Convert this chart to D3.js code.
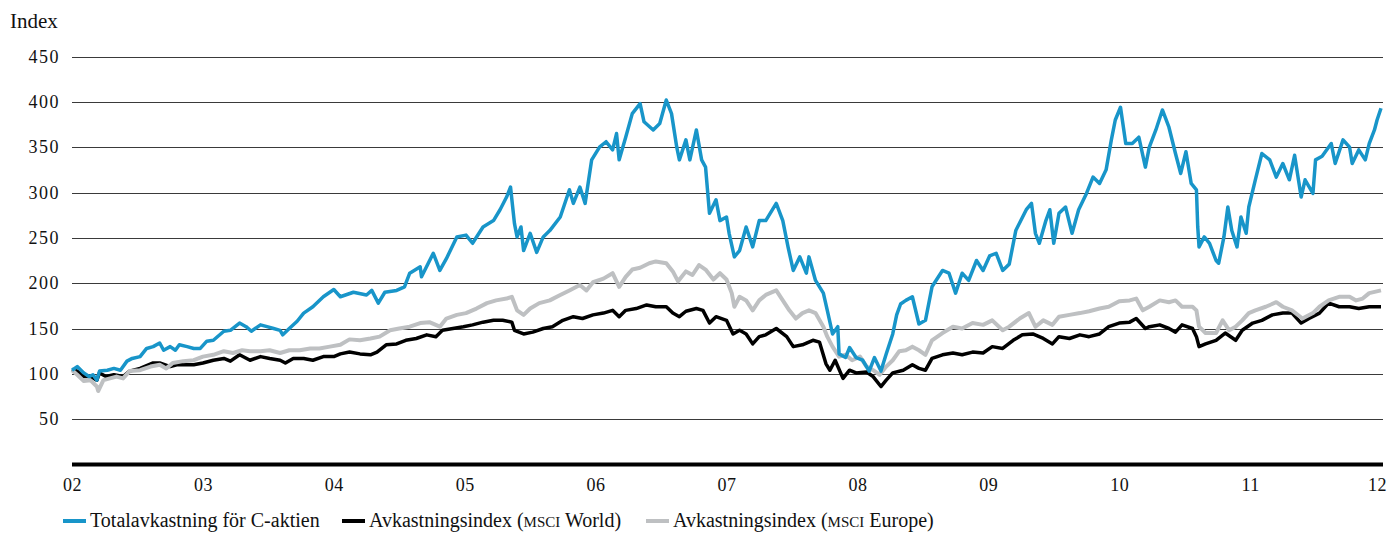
<!DOCTYPE html>
<html>
<head>
<meta charset="utf-8">
<script src="https://cdn.jsdelivr.net/npm/d3@7"></script>
<style>
    body { margin: 0; background: #fff; }
    svg { display: block; font-family: "Liberation Serif", serif; }
</style>
</head>
<body>
<svg id="chart" width="1390" height="533"></svg>
<script>
// [decimal year, index]
var cAktien = [[2002.00,104],[2002.04,108],[2002.09,101],[2002.13,97],[2002.16,99],[2002.19,93],[2002.21,103],[2002.27,104],[2002.32,106],[2002.37,104],[2002.42,114],[2002.46,117],[2002.52,119],[2002.57,128],[2002.62,130],[2002.67,134],[2002.70,126],[2002.75,130],[2002.79,126],[2002.82,132],[2002.88,130],[2002.93,128],[2002.98,128],[2003.03,136],[2003.08,137],[2003.16,147],[2003.21,148],[2003.28,156],[2003.33,152],[2003.37,147],[2003.44,154],[2003.49,152],[2003.54,150],[2003.59,148],[2003.61,143],[2003.66,150],[2003.72,158],[2003.77,167],[2003.84,174],[2003.92,185],[2004.00,193],
    [2004.05,185],[2004.15,190],[2004.25,187],[2004.29,192],[2004.34,178],[2004.39,190],[2004.48,192],[2004.54,196],[2004.58,211],[2004.66,218],[2004.67,207],[2004.76,233],[2004.81,214],[2004.86,227],[2004.94,251],[2005.01,253],[2005.06,244],[2005.14,262],[2005.22,269],[2005.27,281],[2005.32,295],[2005.35,306],[2005.38,266],[2005.40,251],[2005.43,262],[2005.45,236],[2005.50,255],[2005.55,234],[2005.60,251],[2005.65,258],[2005.73,273],[2005.80,303],[2005.83,288],[2005.88,306],[2005.92,288],[2005.97,336],[2006.03,350],[2006.08,356],[2006.13,347],[2006.16,365],
    [2006.18,336],[2006.23,361],[2006.28,387],[2006.34,398],[2006.37,378],[2006.44,369],[2006.49,376],[2006.54,402],[2006.58,387],[2006.62,350],[2006.64,336],[2006.69,358],[2006.72,336],[2006.77,369],[2006.81,336],[2006.84,328],[2006.87,277],[2006.92,292],[2006.95,269],[2007.00,273],[2007.02,255],[2007.06,229],[2007.10,236],[2007.15,262],[2007.20,240],[2007.25,269],[2007.30,269],[2007.38,288],[2007.43,269],[2007.47,240],[2007.51,214],[2007.56,229],[2007.61,211],[2007.63,229],[2007.68,203],[2007.74,189],[2007.77,170],[2007.81,144],[2007.85,152],[2007.86,122],[2007.91,118],[2007.94,129],[2007.99,118],[2008.04,115],[2008.09,103],[2008.13,118],[2008.18,103],[2008.22,122],[2008.27,144],[2008.30,165],[2008.33,177],[2008.37,181],[2008.42,185],
    [2008.47,155],[2008.52,159],[2008.57,196],[2008.65,214],[2008.70,211],[2008.75,189],[2008.80,211],[2008.85,203],[2008.91,225],[2008.96,214],[2009.01,230],[2009.06,233],[2009.11,214],[2009.16,221],[2009.21,258],[2009.29,281],[2009.33,288],[2009.36,255],[2009.39,244],[2009.44,269],[2009.47,281],[2009.50,244],[2009.54,277],[2009.59,284],[2009.64,255],[2009.69,281],[2009.75,299],[2009.80,317],[2009.85,310],[2009.90,325],[2009.94,358],[2009.97,380],[2010.01,394],[2010.05,354],[2010.10,354],[2010.15,361],[2010.20,328],
    [2010.23,350],[2010.28,369],[2010.33,391],[2010.38,372],[2010.43,343],[2010.47,321],[2010.51,345],[2010.55,310],[2010.59,303],[2010.60,262],[2010.61,240],[2010.65,251],[2010.69,244],[2010.74,225],[2010.76,222],[2010.80,251],[2010.83,284],[2010.86,258],[2010.90,240],[2010.93,273],[2010.97,255],[2010.99,284],[2011.04,314],[2011.09,343],[2011.15,336],[2011.20,317],[2011.25,332],[2011.30,314],[2011.34,341],[2011.39,295],[2011.42,314],[2011.48,299],[2011.50,336],[2011.55,340],[2011.62,354],[2011.65,332],[2011.71,358],[2011.76,350],[2011.78,332],[2011.83,347],[2011.88,336],[2011.91,354],[2011.95,369],[2011.97,380],[2012.00,393]];

var msciWorld = [[2002.00,105],[2002.04,103],[2002.09,97],[2002.14,97],[2002.19,93],[2002.21,101],[2002.26,97],[2002.32,99],[2002.39,97],[2002.44,103],[2002.52,106],[2002.62,112],[2002.67,112],[2002.75,108],[2002.80,110],[2002.88,110],[2002.93,110],[2003.00,112],[2003.08,115],[2003.16,117],[2003.21,114],[2003.28,121],[2003.36,115],[2003.44,119],[2003.51,117],[2003.59,115],[2003.63,112],[2003.69,117],[2003.77,117],[2003.84,115],[2003.92,119],[2004.00,119],
    [2004.05,122],[2004.12,124],[2004.20,122],[2004.28,121],[2004.33,124],[2004.40,132],[2004.48,133],[2004.55,137],[2004.63,139],[2004.71,143],[2004.78,141],[2004.83,148],[2004.91,150],[2004.99,152],[2005.06,154],[2005.14,157],[2005.22,159],[2005.29,159],[2005.36,157],[2005.38,148],[2005.45,144],[2005.52,146],[2005.60,150],[2005.67,152],[2005.75,159],[2005.83,163],[2005.90,161],[2005.98,165],[2006.06,167],[2006.13,170],
    [2006.18,163],[2006.23,170],[2006.31,172],[2006.39,176],[2006.46,174],[2006.54,174],[2006.59,167],[2006.64,163],[2006.69,169],[2006.77,172],[2006.82,170],[2006.87,156],[2006.92,163],[2007.00,159],[2007.05,144],[2007.10,148],[2007.15,144],[2007.20,133],[2007.25,141],[2007.30,143],[2007.38,150],[2007.46,141],[2007.51,130],[2007.58,132],[2007.66,137],[2007.71,135],[2007.76,111],[2007.79,104],[2007.83,115],[2007.89,95],[2007.94,104],[2007.99,101],[2008.07,102],[2008.12,97],[2008.18,86],[2008.22,93],[2008.27,101],[2008.35,104],[2008.42,110],
    [2008.47,106],[2008.52,104],[2008.57,117],[2008.65,121],[2008.73,123],[2008.80,121],[2008.88,124],[2008.96,123],[2009.03,130],[2009.11,128],[2009.19,137],[2009.26,143],[2009.34,144],[2009.42,139],[2009.49,133],[2009.54,141],[2009.62,139],[2009.70,143],[2009.77,141],[2009.85,144],[2009.92,152],[2010.00,156],[2010.08,157],[2010.13,161],[2010.20,150],
    [2010.23,152],[2010.31,154],[2010.38,150],[2010.43,146],[2010.48,154],[2010.56,150],[2010.59,141],[2010.61,130],[2010.66,133],[2010.74,137],[2010.81,145],[2010.89,137],[2010.94,148],[2011.02,156],[2011.09,159],[2011.17,165],[2011.25,167],[2011.32,167],[2011.39,156],[2011.45,161],[2011.53,167],[2011.60,178],[2011.68,174],[2011.76,174],[2011.83,172],[2011.91,174],[2012.00,174]];

var msciEurope = [[2002.00,104],[2002.04,99],[2002.09,92],[2002.14,93],[2002.19,86],[2002.20,81],[2002.24,93],[2002.29,95],[2002.34,97],[2002.39,95],[2002.44,103],[2002.52,104],[2002.60,108],[2002.67,110],[2002.72,106],[2002.77,112],[2002.85,114],[2002.93,115],[2003.00,119],[2003.08,121],[2003.16,125],[2003.23,123],[2003.30,126],[2003.36,125],[2003.44,125],[2003.51,126],[2003.59,123],[2003.66,126],[2003.74,126],[2003.82,128],[2003.89,128],[2003.97,130],[2004.05,132],
    [2004.12,138],[2004.20,137],[2004.28,139],[2004.35,141],[2004.43,148],[2004.50,150],[2004.58,152],[2004.66,156],[2004.73,157],[2004.81,152],[2004.86,161],[2004.94,165],[2005.01,167],[2005.09,172],[2005.17,178],[2005.24,181],[2005.32,183],[2005.36,185],[2005.40,170],[2005.45,165],[2005.50,172],[2005.57,178],[2005.65,181],[2005.73,187],[2005.80,192],[2005.88,198],[2005.93,192],[2005.98,201],[2006.06,205],[2006.13,211],
    [2006.18,196],[2006.23,207],[2006.28,215],[2006.34,217],[2006.41,222],[2006.46,224],[2006.54,222],[2006.59,213],[2006.63,202],[2006.69,213],[2006.74,209],[2006.79,220],[2006.84,215],[2006.90,204],[2006.95,211],[2007.00,204],[2007.04,189],[2007.06,174],[2007.10,185],[2007.15,181],[2007.20,170],[2007.25,181],[2007.30,187],[2007.38,192],[2007.43,181],[2007.48,170],[2007.53,161],[2007.58,167],[2007.63,170],[2007.68,167],[2007.74,152],[2007.77,141],[2007.81,130],[2007.86,119],[2007.91,121],[2007.96,115],[2008.02,119],[2008.07,108],[2008.12,104],[2008.17,99],[2008.22,108],[2008.27,115],[2008.32,125],[2008.37,126],[2008.42,130],
    [2008.47,126],[2008.52,121],[2008.57,137],[2008.65,145],[2008.73,152],[2008.80,150],[2008.88,156],[2008.96,154],[2009.03,159],[2009.11,148],[2009.16,152],[2009.24,161],[2009.31,167],[2009.36,152],[2009.42,159],[2009.49,154],[2009.54,163],[2009.62,165],[2009.70,167],[2009.77,169],[2009.85,172],[2009.92,174],[2010.00,180],[2010.08,181],[2010.13,183],[2010.18,170],
    [2010.23,174],[2010.31,181],[2010.38,179],[2010.43,181],[2010.48,174],[2010.56,174],[2010.59,170],[2010.61,152],[2010.66,145],[2010.74,145],[2010.79,159],[2010.84,148],[2010.89,152],[2010.94,159],[2010.99,167],[2011.04,170],[2011.12,174],[2011.20,179],[2011.25,174],[2011.32,170],[2011.40,161],[2011.48,167],[2011.53,174],[2011.60,181],[2011.68,185],[2011.76,185],[2011.81,181],[2011.86,183],[2011.91,189],[2012.00,192]];

var yearTicks = [2002, 2003, 2004, 2005, 2006, 2007, 2008, 2009, 2010, 2011, 2012];
var yearLabels = ["02", "03", "04", "05", "06", "07", "08", "09", "10", "11", "12"];
var indexTicks = [50, 100, 150, 200, 250, 300, 350, 400, 450];
var seriesNames = ["Totalavkastning för C-aktien", "Avkastningsindex (MSCI World)", "Avkastningsindex (MSCI Europe)"];
var seriesColors = ["#1895c9", "#000000", "#bec0c2"];

var svg = d3.select('#chart');
var margin = {top: 56, right: 7, bottom: 68, left: 72};
var width = +svg.attr("width");
var height = +svg.attr("height");

var x = d3.scaleLinear()
    .domain([2002, 2012])
    .range([margin.left, 1381]);

var y = d3.scaleLinear()
    .domain([0, 450])
    .range([464.5, 56.5]);

// gridlines + labels
var yAxis = d3.axisLeft(y)
    .tickValues(indexTicks)
    .tickSize(-(width - margin.right - margin.left))
    .tickPadding(12);

var gy = svg.append("g")
    .attr("class", "axis")
    .attr("transform", "translate(" + margin.left + ",0)")
    .call(yAxis);
gy.select(".domain").remove();
gy.selectAll(".tick line").attr("stroke", "#3a3a3a").attr("stroke-width", 1)
    .attr("shape-rendering", "crispEdges");
gy.selectAll(".tick text")
    .attr("font-family", "Liberation Serif")
    .attr("font-size", 18)
    .attr("letter-spacing", 1.5)
    .attr("fill", "#111");

svg.append("text")
    .attr("x", 10)
    .attr("y", 28)
    .attr("font-size", 21)
    .attr("fill", "#111")
    .text("Index");

var xAxis = d3.axisBottom(x)
    .tickValues(yearTicks)
    .tickFormat(function(d, i) { return yearLabels[i]; })
    .tickSize(0)
    .tickSizeOuter(0)
    .tickPadding(14);

var gx = svg.append("g")
    .attr("class", "axis")
    .attr("transform", "translate(0," + y(0) + ")")
    .call(xAxis);
gx.select(".domain")
    .attr("stroke", "#000")
    .attr("stroke-width", 4)
    .attr("d", "M" + margin.left + ",0H" + (width - margin.right));
gx.selectAll(".tick text")
    .attr("font-family", "Liberation Serif")
    .attr("font-size", 18)
    .attr("letter-spacing", 0.5)
    .attr("dx", function(d, i) { return i === yearTicks.length - 1 ? -4 : 0; })
    .attr("fill", "#111");

var line = d3.line()
    .x(function(d) { return x(d[0]); })
    .y(function(d) { return y(d[1]); });

// drawn back to front: world, europe, c-aktien
var drawOrder = [
    {data: msciWorld, color: seriesColors[1], w: 3.5},
    {data: msciEurope, color: seriesColors[2], w: 4},
    {data: cAktien, color: seriesColors[0], w: 3.5}
];

svg.selectAll(".series")
    .data(drawOrder)
    .enter()
    .append("path")
    .attr("class", "series")
    .attr("d", function(d) { return line(d.data); })
    .attr("fill", "none")
    .attr("stroke", function(d) { return d.color; })
    .attr("stroke-width", function(d) { return d.w; })
    .attr("stroke-linejoin", "round");

// legend
var legendX = [63, 342, 646];
var legend = svg.selectAll(".legend")
    .data(seriesNames)
    .enter()
    .append("g")
    .attr("class", "legend")
    .attr("transform", function(d, i) { return "translate(" + legendX[i] + ",521)"; });

legend.append("line")
    .attr("x1", 0).attr("x2", 23)
    .attr("stroke", function(d, i) { return seriesColors[i]; })
    .attr("stroke-width", 4);

legend.append("text")
    .attr("x", 27)
    .attr("y", 6)
    .attr("font-size", 20)
    .attr("fill", "#111")
    .each(function(d) {
        var t = d3.select(this);
        var parts = d.split("MSCI");
        t.append("tspan").text(parts[0]);
        if (parts.length > 1) {
            t.append("tspan").attr("font-size", 15).text("MSCI");
            t.append("tspan").text(parts[1]);
        }
    });
</script>
</body>
</html>
